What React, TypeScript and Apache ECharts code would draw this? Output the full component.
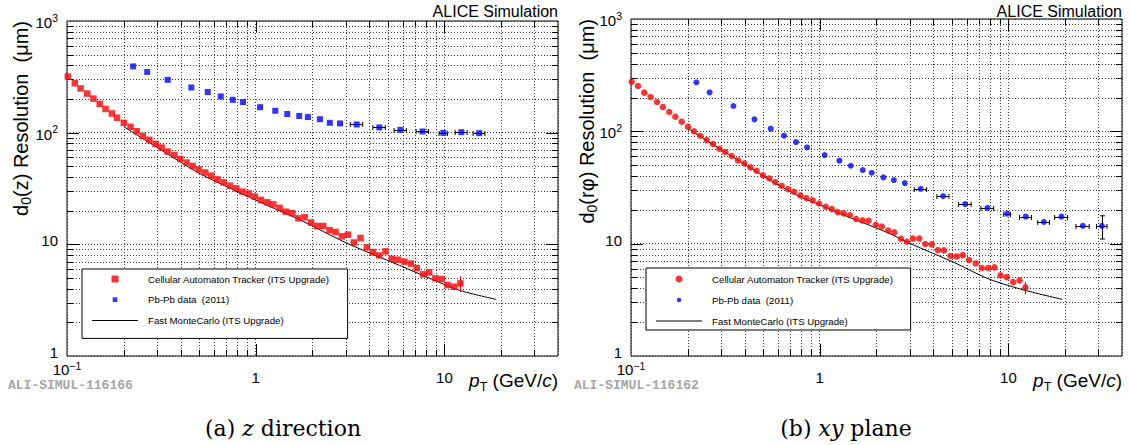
import React, { useEffect, useRef } from "react";
import * as echarts from "echarts";

// ---------------- Panel (a): z direction ----------------
const zCaPt = [0.101, 0.110, 0.118, 0.128, 0.138, 0.149, 0.160, 0.173, 0.184, 0.200,
  0.217, 0.234, 0.252, 0.273, 0.295, 0.317, 0.341, 0.370, 0.398, 0.430,
  0.463, 0.500, 0.540, 0.582, 0.626, 0.676, 0.730, 0.789, 0.850, 0.918,
  0.988, 1.067, 1.153, 1.240, 1.340, 1.446, 1.560, 1.683, 1.816, 1.962,
  2.111, 2.280, 2.463, 2.651, 2.862, 3.080, 3.310, 3.594, 3.880, 4.176,
  4.510, 4.875, 5.265, 5.690, 6.140, 6.640, 7.140, 7.720, 8.300, 8.960,
  9.670, 10.40, 11.25, 12.15];
const zCaRes = [318, 277, 249, 224, 202, 181, 163, 148.6, 136, 122.4,
  112.8, 103, 93.5, 86.2, 79.4, 73.6, 67.8, 63.2, 58.2, 54.0,
  50.4, 46.8, 44.0, 41.2, 38.2, 35.9, 33.5, 31.7, 29.7, 28.5,
  26.8, 25.0, 23.8, 22.8, 21.2, 19.6, 19.0, 17.1, 17.5, 15.7,
  14.6, 14.6, 13.4, 12.9, 11.8, 12.2, 10.4, 11.4, 9.4, 8.53,
  7.96, 8.65, 7.44, 7.29, 7.0, 6.72, 6.14, 5.39, 5.61, 4.96,
  4.89, 4.32, 4.17, 4.47];
const zCaLastErr = [3.73, 5.16];

const zPbPt = [0.224, 0.266, 0.342, 0.456, 0.557, 0.653, 0.756, 0.857, 1.055, 1.27,
  1.47, 1.70, 1.89, 2.19, 2.47, 2.80, 3.43, 4.52, 5.85, 7.66, 9.87, 12.3, 15.3];
const zPbRes = [392, 350, 297, 254, 231, 211, 197, 188, 169, 157,
  147, 141, 138, 132, 122.5, 121, 118.4, 111.4, 106, 102.5, 99.6, 101, 99];
const zPbPtErr = [0, 0, 0, 0, 0, 0, 0, 0, 0, 0,
  0, 0, 0, 0, 0, 0, 0.26, 0.34, 0.44, 0.58, 0.5, 0.9, 1.1];

const zMcPt = [0.2, 0.3, 0.5, 0.76, 1.14, 1.7, 3.02, 5.78, 8.67, 12.0, 18.8];
const zMcRes = [113, 73.8, 43.5, 30.9, 22.5, 16.7, 10.3, 6.48, 4.84, 3.88, 3.21];

// ---------------- Panel (b): xy plane ----------------
const xyCaPt = [0.1008, 0.1089, 0.1176, 0.127, 0.1373, 0.1477, 0.1596, 0.1718, 0.1856, 0.2005,
  0.2158, 0.233, 0.2518, 0.272, 0.294, 0.316, 0.342, 0.369, 0.399, 0.429,
  0.463, 0.501, 0.541, 0.582, 0.629, 0.680, 0.731, 0.790, 0.850, 0.918,
  0.992, 1.076, 1.159, 1.246, 1.341, 1.443, 1.559, 1.685, 1.814, 1.984,
  2.134, 2.307, 2.483, 2.695, 2.90, 3.12, 3.37, 3.63, 3.92, 4.23,
  4.55, 4.94, 5.33, 5.73, 6.19, 6.72, 7.23, 7.81, 8.43, 9.08,
  9.80, 10.6, 11.45, 12.3];
const xyCaRes = [276, 253, 221, 202, 182.5, 164.6, 148.5, 135, 121.9, 110,
  100, 91.4, 83.6, 77.1, 70.0, 65.4, 60.3, 55.1, 51.8, 47.8,
  44.6, 40.5, 38.1, 35.3, 32.8, 30.6, 29.0, 26.9, 25.5, 24.3,
  22.8, 21.3, 20.3, 19.1, 18.6, 17.9, 16.6, 16.1, 16.0, 14.7,
  14.2, 13.1, 12.6, 11.06, 10.4, 11.1, 11.1, 9.92, 9.85, 8.77,
  8.71, 7.76, 7.70, 7.91, 7.15, 6.67, 6.07, 6.07, 6.15, 5.22,
  5.04, 4.55, 4.71, 4.08];
const xyCaLastErr = [3.54, 4.58];

const xyPbPt = [0.222, 0.261, 0.349, 0.451, 0.550, 0.647, 0.749, 0.857, 1.063, 1.272,
  1.461, 1.691, 1.888, 2.177, 2.47, 2.825, 3.43, 4.51, 5.90, 7.75,
  9.85, 12.36, 15.4, 19.1, 24.8, 31.3];
const xyPbRes = [273, 222, 168, 127.8, 105.5, 91.4, 80.3, 71.9, 61.5, 54.8,
  49.4, 45.2, 42.8, 38.9, 36.8, 34.6, 30.8, 26.5, 22.5, 20.8,
  18.5, 17.4, 15.6, 17.4, 14.4, 14.4];
const xyPbPtErr = [0, 0, 0, 0, 0, 0, 0, 0, 0, 0,
  0, 0, 0, 0, 0, 0, 0.26, 0.33, 0.45, 0.6,
  0.4, 0.9, 1.1, 1.5, 2.0, 2.0];
const xyPbLastErr = [11.0, 17.7];

const xyMcPt = [0.2, 0.44, 0.6, 0.8, 1.0, 1.236, 2.275, 3.03, 5.14, 7.72, 11.6, 19.3];
const xyMcRes = [106, 46, 33.5, 25.8, 22.2, 19.0, 12.6, 10.0, 6.82, 4.91, 3.94, 3.19];

// ---------------- axes / ticks ----------------
const X_MIN = 0.1;
const X_MAX = 40;
const Y_MIN = 1;
const Y_MAX = 1000;
const xMajorTicks = [0.1, 1, 10];
const xTickText = ["{c|10}{s|\u22121}", "{b|1}", "{b|10}"];
const yMajorTicks = [1, 10, 100, 1000];
const yTickText = ["{b|1}", "{b|10}", "{b|10}{s|2}", "{b|10}{s|3}"];
const minorMult = [2, 3, 4, 5, 6, 7, 8, 9];

const legendNames = [
  "Cellular Automaton Tracker (ITS Upgrade)",
  "Pb-Pb data  (2011)",
  "Fast MonteCarlo (ITS Upgrade)",
];

const SANS = "'Liberation Sans', Arial, Helvetica, sans-serif";
const SERIF = "'DejaVu Serif', 'Liberation Serif', serif";
const MONO = "'Liberation Mono', 'DejaVu Sans Mono', monospace";

const ICON_SQUARE = "path://M0,0H10V10H0Z";
const ICON_SMALL_SQUARE = "path://M0,0M13,13M2.2,2.2H10.8V10.8H2.2Z";
const ICON_SMALL_CIRCLE = "path://M0,0M13,13M2.3,6.5A4.2,4.2,0,1,1,10.7,6.5A4.2,4.2,0,1,1,2.3,6.5Z";
const ICON_LINE = "path://M0,0H45V1H0Z";

type PanelCfg = {
  grid: { left: number; top: number; width: number; height: number };
  caPt: number[]; caRes: number[]; caLastErr: number[];
  pbPt: number[]; pbRes: number[]; pbPtErr: number[]; pbLastErr: number[] | null;
  mcPt: number[]; mcRes: number[];
  symbol: string; caSize: number; pbSize: number;
  icons: string[];
  legend: { left: number; top: number; pad: number[]; gap: number; textGap: number };
  yTitle: string; caption: string; watermark: string; captionX: number;
};

function labelFor(v: number, ticks: number[], texts: string[]) {
  const i = ticks.findIndex((t) => Math.abs(Math.log10(v) - Math.log10(t)) < 1e-6);
  return i >= 0 ? texts[i] : "";
}

const xTickRich = {
  b: { fontSize: 15, fontFamily: SANS, color: "#000", verticalAlign: "top", padding: [9.5, 0, 0, 0] },
  c: { fontSize: 15, fontFamily: SANS, color: "#000", verticalAlign: "bottom" },
  s: { fontSize: 10.5, fontFamily: SANS, color: "#000", verticalAlign: "top", padding: [0, 0, 6, 0] },
};
const yTickRich = {
  b: { fontSize: 15, lineHeight: 8, fontFamily: SANS, color: "#000", verticalAlign: "bottom" },
  s: { fontSize: 10.5, fontFamily: SANS, color: "#000", verticalAlign: "top", padding: [0, 0, 7, 0] },
};

function buildOption(c: PanelCfg) {
  const g = c.grid;
  const right = g.left + g.width;

  // tick rows: [x, y, kind(0=x,1=y), major]
  const tickRows: number[][] = [];
  xMajorTicks.forEach((m) => {
    minorMult.forEach((k) => {
      const v = m * k;
      if (v < X_MAX * 0.999) tickRows.push([v, Y_MIN, 0, 0]);
    });
    if (m > X_MIN) tickRows.push([m, Y_MIN, 0, 1]);
  });
  yMajorTicks.forEach((m) => {
    if (m >= Y_MAX) return;
    minorMult.forEach((k) => tickRows.push([X_MIN, m * k, 1, 0]));
    if (m > Y_MIN) tickRows.push([X_MIN, m, 1, 1]);
  });

  const gridDash = { stroke: "#3a3a3a", lineWidth: 1, lineDash: [1, 2] };
  const tickStyle = { stroke: "#000", lineWidth: 1 };

  const errRows: number[][] = [];
  c.pbPt.forEach((p, i) => {
    if (c.pbPtErr[i] > 0) {
      const last = i === c.pbPt.length - 1 && c.pbLastErr;
      errRows.push([p, c.pbRes[i], p - c.pbPtErr[i], p + c.pbPtErr[i],
        last ? c.pbLastErr![0] : c.pbRes[i], last ? c.pbLastErr![1] : c.pbRes[i]]);
    }
  });
  const nCa = c.caPt.length - 1;
  const caErrRows = [[c.caPt[nCa], c.caRes[nCa], c.caPt[nCa], c.caPt[nCa], c.caLastErr[0], c.caLastErr[1]]];

  const errRender = (color: string, caps: boolean) => (params: any, api: any) => {
    const l = api.coord([api.value(2), api.value(1)]);
    const r = api.coord([api.value(3), api.value(1)]);
    const lo = api.coord([api.value(0), api.value(4)]);
    const hi = api.coord([api.value(0), api.value(5)]);
    const st = { stroke: color, lineWidth: 1 };
    const ch: any[] = [];
    if (r[0] - l[0] > 0.5) {
      const y = Math.round(l[1]) + 0.5;
      ch.push({ type: "line", shape: { x1: l[0], y1: y, x2: r[0], y2: y }, style: st });
      if (caps) {
        ch.push({ type: "line", shape: { x1: l[0], y1: y - 2.5, x2: l[0], y2: y + 2.5 }, style: st });
        ch.push({ type: "line", shape: { x1: r[0], y1: y - 2.5, x2: r[0], y2: y + 2.5 }, style: st });
      }
    }
    if (lo[1] - hi[1] > 0.5) {
      const x = Math.round(lo[0]) + 0.5;
      ch.push({ type: "line", shape: { x1: x, y1: lo[1], x2: x, y2: hi[1] }, style: st });
      if (caps) {
        ch.push({ type: "line", shape: { x1: x - 2.5, y1: lo[1], x2: x + 2.5, y2: lo[1] }, style: st });
        ch.push({ type: "line", shape: { x1: x - 2.5, y1: hi[1], x2: x + 2.5, y2: hi[1] }, style: st });
      }
    }
    return { type: "group", children: ch };
  };

  return {
    animation: false,
    backgroundColor: "#fff",
    textStyle: { fontFamily: SANS },
    grid: {
      left: g.left, top: g.top, width: g.width, height: g.height,
      show: true, borderColor: "#000", borderWidth: 1, backgroundColor: "transparent",
      containLabel: false, outerBoundsMode: "none",
    },
    xAxis: {
      type: "log", logBase: 10, min: X_MIN, max: X_MAX,
      axisLine: { show: false }, axisTick: { show: false },
      splitLine: { show: true, lineStyle: { color: "#3a3a3a", width: 1, type: [1, 2] } },
      axisLabel: {
        margin: 4, color: "#000", fontSize: 15, fontFamily: SANS,
        formatter: (v: number) => labelFor(v, xMajorTicks, xTickText),
        rich: xTickRich,
      },
    },
    yAxis: {
      type: "log", logBase: 10, min: Y_MIN, max: Y_MAX,
      axisLine: { show: false }, axisTick: { show: false },
      splitLine: { show: true, lineStyle: { color: "#3a3a3a", width: 1, type: [1, 2] } },
      axisLabel: {
        margin: 9, color: "#000", fontSize: 15, fontFamily: SANS,
        formatter: (v: number) => labelFor(v, yMajorTicks, yTickText),
        rich: yTickRich,
      },
    },
    legend: {
      orient: "vertical", left: c.legend.left, top: c.legend.top,
      padding: c.legend.pad,
      itemWidth: 46, itemHeight: 7, itemGap: c.legend.gap,
      borderColor: "#000", borderWidth: 1, borderRadius: 0, backgroundColor: "#fff",
      selectedMode: false, symbolKeepAspect: true,
      textStyle: { fontSize: 9.7, lineHeight: 12, fontFamily: SANS, color: "#000", padding: [0, 0, 0, c.legend.textGap] },
      data: legendNames.map((n, i) => ({ name: n, icon: c.icons[i] })),
    },
    graphic: [
      { type: "text", x: right, y: 11, style: { text: "ALICE Simulation", align: "right", verticalAlign: "middle", font: `16px ${SANS}`, fill: "#000" } },
      {
        type: "text", x: 22, y: g.top, rotation: Math.PI / 2,
        style: {
          text: c.yTitle, align: "right", verticalAlign: "middle", fill: "#000",
          rich: {
            t: { fontSize: 20, fontFamily: SANS, fill: "#000", verticalAlign: "top" },
            sub: { fontSize: 14, fontFamily: SANS, fill: "#000", verticalAlign: "bottom", padding: [8, 0, 0, 0] },
          },
        },
      },
      {
        type: "text", x: right, y: 382,
        style: {
          text: "{i|p}{sub|T}{t| (GeV/}{i|c}{t|)}", align: "right", verticalAlign: "middle", fill: "#000",
          rich: {
            t: { fontSize: 19, fontFamily: SANS, fill: "#000", verticalAlign: "top" },
            i: { fontSize: 19, fontFamily: SANS, fontStyle: "italic", fill: "#000", verticalAlign: "top" },
            sub: { fontSize: 12.5, fontFamily: SANS, fill: "#000", verticalAlign: "bottom", padding: [9, 0, 0, 0] },
          },
        },
      },
      { type: "text", x: 8, y: 385.5, style: { text: c.watermark, align: "left", verticalAlign: "middle", font: `bold 13px ${MONO}`, fill: "#a6a6a6" } },
      {
        type: "text", x: c.captionX, y: 428,
        style: {
          text: c.caption, align: "center", verticalAlign: "middle", fill: "#000",
          rich: {
            t: { fontSize: 22, fontFamily: SERIF, fill: "#000" },
            i: { fontSize: 22, fontFamily: SERIF, fontStyle: "italic", fill: "#000" },
          },
        },
      },
    ],
    series: [
      {
        name: "ticks", type: "custom", silent: true, z: 0, clip: false,
        encode: { x: 0, y: 1 },
        data: tickRows,
        renderItem: (params: any, api: any) => {
          const cs = params.coordSys;
          const kind = api.value(2);
          const major = api.value(3);
          const p = api.coord([api.value(0), api.value(1)]);
          const len = major ? 12 : 6;
          const ch: any[] = [];
          if (kind === 0) {
            const x = Math.round(p[0]) + 0.5;
            const y0 = cs.y, y1 = cs.y + cs.height;
            if (!major) ch.push({ type: "line", shape: { x1: x, y1: y0, x2: x, y2: y1 }, style: gridDash });
            ch.push({ type: "line", shape: { x1: x, y1: y1, x2: x, y2: y1 - len }, style: tickStyle });
            ch.push({ type: "line", shape: { x1: x, y1: y0, x2: x, y2: y0 + len }, style: tickStyle });
          } else {
            const y = Math.round(p[1]) + 0.5;
            const x0 = cs.x, x1 = cs.x + cs.width;
            if (!major) ch.push({ type: "line", shape: { x1: x0, y1: y, x2: x1, y2: y }, style: gridDash });
            ch.push({ type: "line", shape: { x1: x0, y1: y, x2: x0 + len, y2: y }, style: tickStyle });
            ch.push({ type: "line", shape: { x1: x1, y1: y, x2: x1 - len, y2: y }, style: tickStyle });
          }
          return { type: "group", children: ch };
        },
      },
      {
        name: legendNames[2], type: "line", z: 2,
        data: c.mcPt.map((p, i) => [p, c.mcRes[i]]),
        symbol: "none", showSymbol: false, smooth: 0.3,
        color: "#000", lineStyle: { color: "#000", width: 1 },
      },
      {
        name: "pbErr", type: "custom", silent: true, z: 3, clip: false,
        encode: { x: 0, y: 1 }, data: errRows, renderItem: errRender("#000", true),
      },
      {
        name: "caErr", type: "custom", silent: true, z: 3, clip: false,
        encode: { x: 0, y: 1 }, data: caErrRows, renderItem: errRender("#ff0000", false),
      },
      {
        name: legendNames[0], type: "scatter", z: 4, clip: false,
        data: c.caPt.map((p, i) => [p, c.caRes[i]]),
        symbol: c.symbol, symbolSize: c.caSize,
        color: "#ff0000", itemStyle: { color: "#ff0000" },
      },
      {
        name: legendNames[1], type: "scatter", z: 4, clip: false,
        data: c.pbPt.map((p, i) => [p, c.pbRes[i]]),
        symbol: c.symbol, symbolSize: c.pbSize,
        color: "#0000ff", itemStyle: { color: "#0000ff" },
      },
    ],
  };
}

const panelA: PanelCfg = {
  grid: { left: 67, top: 21, width: 491, height: 335 },
  caPt: zCaPt, caRes: zCaRes, caLastErr: zCaLastErr,
  pbPt: zPbPt, pbRes: zPbRes, pbPtErr: zPbPtErr, pbLastErr: null,
  mcPt: zMcPt, mcRes: zMcRes,
  symbol: "rect", caSize: 6.5, pbSize: 6,
  icons: [ICON_SQUARE, ICON_SMALL_SQUARE, ICON_LINE],
  legend: { left: 82, top: 269, pad: [4, 18, 12, 10], gap: 8.7, textGap: 5 },
  yTitle: "{t|d}{sub|0}{t|(z) Resolution  (\u03bcm)}",
  caption: "{t|(a) }{i|z}{t| direction}",
  watermark: "ALI-SIMUL-116166",
  captionX: 283,
};

const panelB: PanelCfg = {
  grid: { left: 65, top: 19, width: 491, height: 337 },
  caPt: xyCaPt, caRes: xyCaRes, caLastErr: xyCaLastErr,
  pbPt: xyPbPt, pbRes: xyPbRes, pbPtErr: xyPbPtErr, pbLastErr: xyPbLastErr,
  mcPt: xyMcPt, mcRes: xyMcRes,
  symbol: "circle", caSize: 6.5, pbSize: 6,
  icons: ["circle", ICON_SMALL_CIRCLE, ICON_LINE],
  legend: { left: 80, top: 268, pad: [5, 17, 3, 10], gap: 9, textGap: 5 },
  yTitle: "{t|d}{sub|0}{t|(r\u03c6) Resolution  (\u03bcm)}",
  caption: "{t|(b) }{i|xy}{t| plane}",
  watermark: "ALI-SIMUL-116162",
  captionX: 280,
};

function Panel({ cfg, left, width }: { cfg: PanelCfg; left: number; width: number }) {
  const ref = useRef<HTMLDivElement>(null);
  useEffect(() => {
    if (!ref.current) return;
    const chart = echarts.init(ref.current, undefined, { renderer: "svg", width, height: 445 });
    chart.setOption(buildOption(cfg) as any);
    return () => chart.dispose();
  }, [cfg, width]);
  return <div ref={ref} style={{ position: "absolute", left, top: 0, width, height: 445 }} />;
}

export default function App() {
  useEffect(() => {
    document.body.style.margin = "0";
  }, []);
  return (
    <div style={{ position: "fixed", left: 0, top: 0, width: 1131, height: 445, background: "#fff", overflow: "hidden" }}>
      <Panel cfg={panelA} left={0} width={566} />
      <Panel cfg={panelB} left={566} width={565} />
    </div>
  );
}
